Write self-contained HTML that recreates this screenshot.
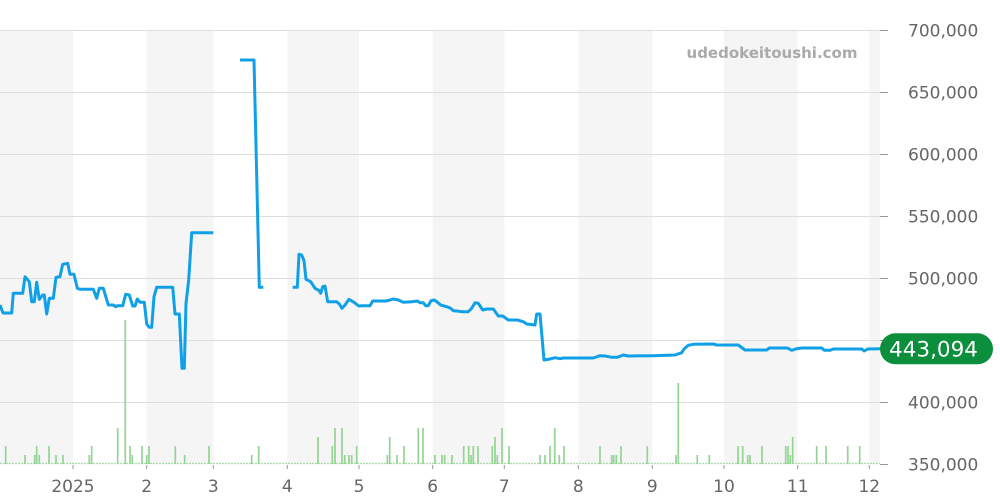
<!DOCTYPE html>
<html><head><meta charset="utf-8"><style>
html,body{margin:0;padding:0;background:#fff;}
svg{display:block;font-family:"DejaVu Sans","Liberation Sans",sans-serif;}
</style></head><body>
<svg width="1000" height="500" viewBox="0 0 1000 500" xmlns="http://www.w3.org/2000/svg">
<defs>
<line id="g" x1="0" y1="0" x2="880" y2="0" stroke="#dddddd" stroke-width="1"/>
<line id="rt" x1="880" y1="0" x2="888" y2="0" stroke="#999" stroke-width="1"/>
<line id="bt" x1="0" y1="465" x2="0" y2="469" stroke="#999" stroke-width="1"/>
</defs>
<rect width="1000" height="500" fill="#fff"/>
<path fill="#f5f5f5" d="M0 30H73V464H0Z M146.7 30H213.3V464H146.7Z M287.3 30H359V464H287.3Z M432.7 30H504.3V464H432.7Z M578.3 30H652.3V464H578.3Z M724 30H797.7V464H724Z M869.3 30H880V464H869.3Z"/>
<use href="#g" y="30.5"/><use href="#g" y="92.5"/><use href="#g" y="154.5"/><use href="#g" y="216.5"/><use href="#g" y="278.5"/><use href="#g" y="340.5"/><use href="#g" y="402.5"/>
<use href="#rt" y="30.5"/><use href="#rt" y="92.5"/><use href="#rt" y="154.5"/><use href="#rt" y="216.5"/><use href="#rt" y="278.5"/><use href="#rt" y="340.5"/><use href="#rt" y="402.5"/><use href="#rt" y="464.5"/>
<use href="#bt" x="73"/><use href="#bt" x="146.7"/><use href="#bt" x="213.3"/><use href="#bt" x="287.3"/><use href="#bt" x="359"/><use href="#bt" x="432.7"/><use href="#bt" x="504.3"/><use href="#bt" x="578.3"/><use href="#bt" x="652.3"/><use href="#bt" x="724"/><use href="#bt" x="797.7"/><use href="#bt" x="869.3"/>
<line x1="0" y1="463.5" x2="880" y2="463.5" stroke="#a8dca8" stroke-width="1.2" stroke-dasharray="2,1"/>
<path stroke="#94d494" stroke-width="1.7" fill="none" d="M5.7 464V446M25 464V455M34.7 464V455M36.7 464V446M39.3 464V455M49 464V446M56 464V455M63 464V455M89.3 464V455M91.7 464V446M117.7 464V428M125.3 464V320M130 464V446M132.3 464V455M142 464V446M146.7 464V455M149 464V446M175.3 464V446M184.7 464V455M209 464V446M251.7 464V455M258.7 464V446M318 464V437M332.3 464V446M335 464V428M342 464V428M344.7 464V455M349 464V455M351.7 464V455M356.7 464V446M387.3 464V455M389.7 464V437M397 464V455M404 464V446M418.3 464V428M423 464V428M435 464V455M442 464V455M444.7 464V455M452 464V455M463.7 464V446M468.7 464V446M471 464V455M473.3 464V446M478 464V446M492.3 464V446M495 464V437M497.3 464V455M502 464V428M509 464V446M540 464V455M545 464V455M550 464V446M554.7 464V428M559.3 464V455M564 464V446M600 464V446M611.7 464V455M613.7 464V455M616.3 464V455M621 464V446M647.3 464V446M676 464V455M678.3 464V383M697.3 464V455M709.3 464V455M738 464V446M742.7 464V446M747.7 464V455M750 464V455M762 464V446M785.7 464V446M788 464V446M790.3 464V455M792.7 464V437M816.7 464V446M826 464V446M847.7 464V446M859.7 464V446"/>
<g fill="none" stroke="#10a0e8" stroke-width="3" stroke-linejoin="round">
<polyline points="0,305 3,313 11.7,313 13.3,293.3 22.7,293.3 25,276.7 29.3,281.7 31.7,301.7 34.3,301.7 36.7,282.3 39.3,299.3 42.7,295 44.3,295 46.7,314 49.3,298.3 53.3,298.3 56,277.3 60,276.7 62.7,264.3 67.7,263.3 70,274.3 74,274.3 77.3,288.3 80,289.3 93.3,289.3 96.7,298.3 99.3,288.3 103.3,288.3 108.3,305 113.3,305 115.7,306.7 117.3,305.7 122.7,305.7 125.7,294.3 129.3,295 132.7,306 135,306 137.3,299 140,302.3 144.3,302.3 146.7,324 149.3,327.3 151.7,327.3 154,296.7 156.7,287.3 172.7,287.3 175,314 179.3,314 182,368.3 184.3,368.3 186,303.3 188.7,280 191.7,232.7 213.3,232.7"/>
<polyline points="240,60 254,60 259.3,287.3 263.3,287.3"/>
<polyline points="292.7,287.3 297.3,287.3 299,254.3 301.7,255 304,260.7 306,279.3 310.7,281.7 315,288.3 319.3,290.7 320.7,293.3 322.7,286.7 325,286 327.7,301.7 336.7,301.7 339.3,304 342,308.3 345,305 349,299.3 354,302.3 358.7,306 362.7,305.7 370,305.7 372.7,301 386,301 390,300 393.3,299 398.3,300 403.3,302.3 411.7,301.7 417.3,301 420,302.7 423.3,302.7 425.7,305.7 428.3,305.7 431,300.7 434.3,300 436.7,301.7 440.7,305 446.7,306.7 450.7,308.3 453.3,310.7 456.7,311 461.7,311.7 468.3,311.7 471.7,308.3 475,302.7 478.3,303.3 482.7,310 486.7,309 493.3,309 498.3,316 502.7,316 508.3,320 517.3,320 523.3,321.7 526.7,324 535,325 536.7,314 540,314 544,360 550,359 555,357.7 560,358.7 563.3,358 593.3,358 600,355.7 605,356 611.7,357.3 617.3,357.3 623.3,355 628.3,356 653.3,355.7 675,355 681.7,352.7 684,349 688.3,345.3 693.3,344.3 713.3,344 716.7,345 738.3,345 745,350 766.7,350 769.3,348 787.3,348 791.7,350.3 796.7,348.7 801.7,348 821.7,348 824.3,350.3 830,350.3 833.3,349 861.7,349 864.3,351 867.7,349 880,348.7"/>
</g>
<text x="772" y="58" text-anchor="middle" font-size="15" font-weight="bold" fill="#aaaaaa">udedokeitoushi.com</text>
<g font-size="17" fill="#666666">
<text x="908" y="36.5">700,000</text>
<text x="908" y="98.5">650,000</text>
<text x="908" y="160.5">600,000</text>
<text x="908" y="222.5">550,000</text>
<text x="908" y="284.5">500,000</text>
<text x="908" y="408.5">400,000</text>
<text x="908" y="470.5">350,000</text>
</g>
<g font-size="17" fill="#666666" text-anchor="middle">
<text x="73" y="492">2025</text>
<text x="146.7" y="492">2</text>
<text x="213.3" y="492">3</text>
<text x="287.3" y="492">4</text>
<text x="359" y="492">5</text>
<text x="432.7" y="492">6</text>
<text x="504.3" y="492">7</text>
<text x="578.3" y="492">8</text>
<text x="652.3" y="492">9</text>
<text x="724" y="492">10</text>
<text x="797.7" y="492">11</text>
<text x="869.3" y="492">12</text>
</g>
<rect x="880" y="333.3" width="113" height="31" rx="15.5" ry="15.5" fill="#0b8f3c"/>
<text x="933.5" y="356.5" text-anchor="middle" font-size="21.5" fill="#ffffff">443,094</text>
</svg>
</body></html>
